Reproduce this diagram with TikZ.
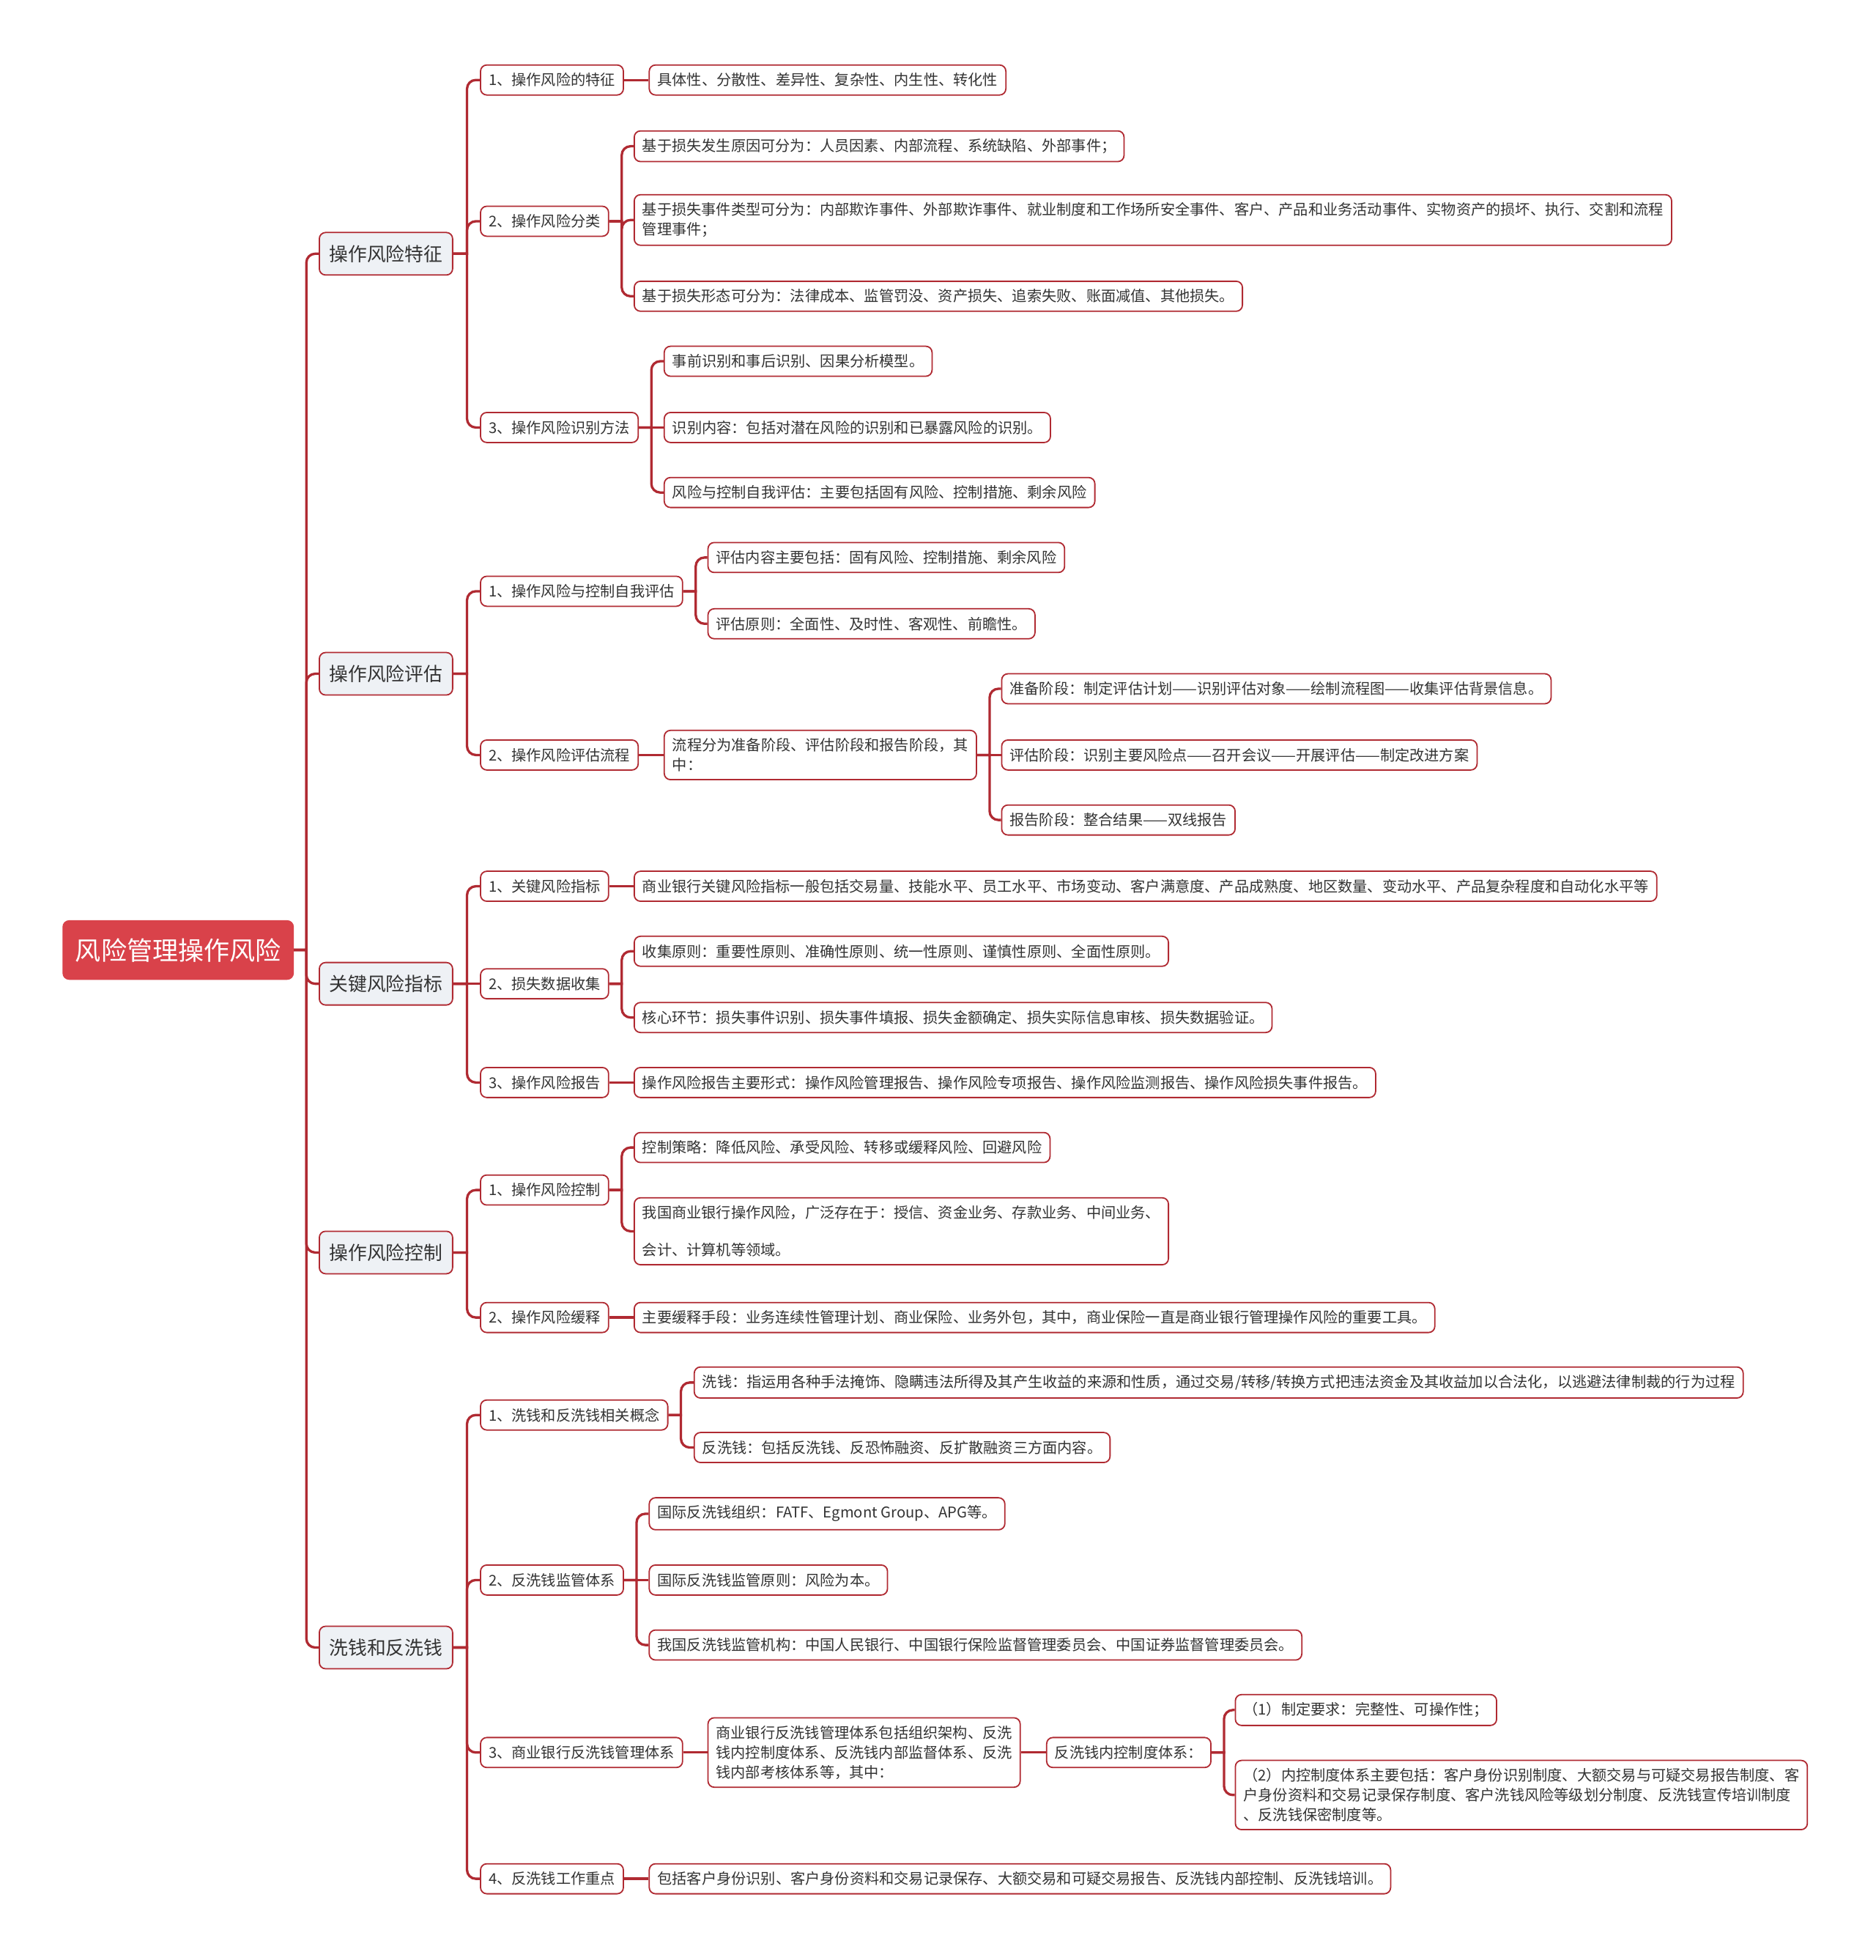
\documentclass[tikz,border=0pt]{standalone}
\usepackage{fontspec}
\setmainfont{Noto Sans CJK SC}
\usetikzlibrary{positioning}
\definecolor{linkred}{RGB}{176,42,50}
\definecolor{rootred}{RGB}{217,66,74}
\definecolor{catbg}{RGB}{238,241,245}
\definecolor{ink}{RGB}{51,51,51}

\begin{document}
\begin{tikzpicture}[x=0.02cm, y=-0.02cm,
  root/.style={draw=rootred, fill=rootred, text=white, rounded corners=0.1cm, minimum height=0.94cm, inner xsep=0.2cm, anchor=west, font=\fontsize{11.7}{14}\selectfont},
  cat/.style={draw=linkred, fill=catbg, text=ink, line width=0.6pt, rounded corners=0.1cm, minimum height=0.68cm, inner xsep=0.16cm, anchor=west, font=\fontsize{8.6}{10}\selectfont},
  sub/.style={draw=linkred, fill=white, text=ink, line width=0.6pt, rounded corners=0.1cm, minimum height=0.48cm, inner xsep=0.13cm, inner ysep=3.6pt, anchor=west, align=left, font=\fontsize{6.74}{9}\selectfont},
  link/.style={draw=linkred, line width=1.1pt},
]
\path[use as bounding box, fill=white] (0,0) rectangle (1501,1568);

\node[root] (r) at (50,760) {风险管理操作风险};

\node[cat] (a) at (255,203) {操作风险特征};
\node[cat] (b) at (255,539) {操作风险评估};
\node[cat] (c) at (255,787) {关键风险指标};
\node[cat] (d) at (255,1002) {操作风险控制};
\node[cat] (e) at (255,1318) {洗钱和反洗钱};

\node[sub] (a1) at (384,64) {1、操作风险的特征};
\node[sub] (a2) at (384,177) {2、操作风险分类};
\node[sub] (a3) at (384,342) {3、操作风险识别方法};
\node[sub] (a11) at (519,64) {具体性、分散性、差异性、复杂性、内生性、转化性};
\node[sub] (a21) at (507,117) {基于损失发生原因可分为：人员因素、内部流程、系统缺陷、外部事件；};
\node[sub] (a22) at (507,176) {基于损失事件类型可分为：内部欺诈事件、外部欺诈事件、就业制度和工作场所安全事件、客户、产品和业务活动事件、实物资产的损坏、执行、交割和流程\\管理事件；};
\node[sub] (a23) at (507,237) {基于损失形态可分为：法律成本、监管罚没、资产损失、追索失败、账面减值、其他损失。};
\node[sub] (a31) at (531,289) {事前识别和事后识别、因果分析模型。};
\node[sub] (a32) at (531,342) {识别内容：包括对潜在风险的识别和已暴露风险的识别。};
\node[sub] (a33) at (531,394) {风险与控制自我评估：主要包括固有风险、控制措施、剩余风险};

\node[sub] (b1) at (384,473) {1、操作风险与控制自我评估};
\node[sub] (b2) at (384,604) {2、操作风险评估流程};
\node[sub] (b11) at (566,446) {评估内容主要包括：固有风险、控制措施、剩余风险};
\node[sub] (b12) at (566,499) {评估原则：全面性、及时性、客观性、前瞻性。};
\node[sub] (b21) at (531,604) {流程分为准备阶段、评估阶段和报告阶段，其\\中：};
\node[sub] (b211) at (801,551) {准备阶段：制定评估计划——识别评估对象——绘制流程图——收集评估背景信息。};
\node[sub] (b212) at (801,604) {评估阶段：识别主要风险点——召开会议——开展评估——制定改进方案};
\node[sub] (b213) at (801,656) {报告阶段：整合结果——双线报告};

\node[sub] (c1) at (384,709) {1、关键风险指标};
\node[sub] (c2) at (384,787) {2、损失数据收集};
\node[sub] (c3) at (384,866) {3、操作风险报告};
\node[sub] (c11) at (507,709) {商业银行关键风险指标一般包括交易量、技能水平、员工水平、市场变动、客户满意度、产品成熟度、地区数量、变动水平、产品复杂程度和自动化水平等};
\node[sub] (c21) at (507,761) {收集原则：重要性原则、准确性原则、统一性原则、谨慎性原则、全面性原则。};
\node[sub] (c22) at (507,814) {核心环节：损失事件识别、损失事件填报、损失金额确定、损失实际信息审核、损失数据验证。};
\node[sub] (c31) at (507,866) {操作风险报告主要形式：操作风险管理报告、操作风险专项报告、操作风险监测报告、操作风险损失事件报告。};

\node[sub] (d1) at (384,952) {1、操作风险控制};
\node[sub] (d2) at (384,1054) {2、操作风险缓释};
\node[sub] (d11) at (507,918) {控制策略：降低风险、承受风险、转移或缓释风险、回避风险};
\node[sub] (d12) at (507,985) {我国商业银行操作风险，广泛存在于：授信、资金业务、存款业务、中间业务、\\[8pt]会计、计算机等领域。};
\node[sub] (d21) at (507,1054) {主要缓释手段：业务连续性管理计划、商业保险、业务外包，其中，商业保险一直是商业银行管理操作风险的重要工具。};

\node[sub] (e1) at (384,1132) {1、洗钱和反洗钱相关概念};
\node[sub] (e2) at (384,1264) {2、反洗钱监管体系};
\node[sub] (e3) at (384,1402) {3、商业银行反洗钱管理体系};
\node[sub] (e4) at (384,1503) {4、反洗钱工作重点};
\node[sub] (e11) at (555,1106) {洗钱：指运用各种手法掩饰、隐瞒违法所得及其产生收益的来源和性质，通过交易/转移/转换方式把违法资金及其收益加以合法化，以逃避法律制裁的行为过程};
\node[sub] (e12) at (555,1158) {反洗钱：包括反洗钱、反恐怖融资、反扩散融资三方面内容。};
\node[sub] (e21) at (519,1211) {国际反洗钱组织：FATF、Egmont Group、APG等。};
\node[sub] (e22) at (519,1264) {国际反洗钱监管原则：风险为本。};
\node[sub] (e23) at (519,1316) {我国反洗钱监管机构：中国人民银行、中国银行保险监督管理委员会、中国证券监督管理委员会。};
\node[sub] (e31) at (566,1402) {商业银行反洗钱管理体系包括组织架构、反洗\\钱内控制度体系、反洗钱内部监督体系、反洗\\钱内部考核体系等，其中：};
\node[sub] (e311) at (837,1402) {反洗钱内控制度体系：};
\node[sub] (e3111) at (988,1368) {（1）制定要求：完整性、可操作性；};
\node[sub] (e3112) at (988,1436) {（2）内控制度体系主要包括：客户身份识别制度、大额交易与可疑交易报告制度、客\\户身份资料和交易记录保存制度、客户洗钱风险等级划分制度、反洗钱宣传培训制度\\、反洗钱保密制度等。};
\node[sub] (e41) at (519,1503) {包括客户身份识别、客户身份资料和交易记录保存、大额交易和可疑交易报告、反洗钱内部控制、反洗钱培训。};

\draw[link] (r.east) -- ++(10,0) [rounded corners=4pt] |- (a.west);
\draw[link] (r.east) -- ++(10,0) [rounded corners=4pt] |- (b.west);
\draw[link] (r.east) -- ++(10,0) [rounded corners=4pt] |- (c.west);
\draw[link] (r.east) -- ++(10,0) [rounded corners=4pt] |- (d.west);
\draw[link] (r.east) -- ++(10,0) [rounded corners=4pt] |- (e.west);

\draw[link] (a.east) -- ++(11,0) [rounded corners=4pt] |- (a1.west);
\draw[link] (a.east) -- ++(11,0) [rounded corners=4pt] |- (a2.west);
\draw[link] (a.east) -- ++(11,0) [rounded corners=4pt] |- (a3.west);
\draw[link] (a1.east) -- (a11.west);
\draw[link] (a2.east) -- ++(10,0) [rounded corners=4pt] |- (a21.west);
\draw[link] (a2.east) -- ++(10,0) [rounded corners=4pt] |- (a22.west);
\draw[link] (a2.east) -- ++(10,0) [rounded corners=4pt] |- (a23.west);
\draw[link] (a3.east) -- ++(10,0) [rounded corners=4pt] |- (a31.west);
\draw[link] (a3.east) -- (a32.west);
\draw[link] (a3.east) -- ++(10,0) [rounded corners=4pt] |- (a33.west);

\draw[link] (b.east) -- ++(11,0) [rounded corners=4pt] |- (b1.west);
\draw[link] (b.east) -- ++(11,0) [rounded corners=4pt] |- (b2.west);
\draw[link] (b1.east) -- ++(10,0) [rounded corners=4pt] |- (b11.west);
\draw[link] (b1.east) -- ++(10,0) [rounded corners=4pt] |- (b12.west);
\draw[link] (b2.east) -- (b21.west);
\draw[link] (b21.east) -- ++(10,0) [rounded corners=4pt] |- (b211.west);
\draw[link] (b21.east) -- (b212.west);
\draw[link] (b21.east) -- ++(10,0) [rounded corners=4pt] |- (b213.west);

\draw[link] (c.east) -- ++(11,0) [rounded corners=4pt] |- (c1.west);
\draw[link] (c.east) -- (c2.west);
\draw[link] (c.east) -- ++(11,0) [rounded corners=4pt] |- (c3.west);
\draw[link] (c1.east) -- (c11.west);
\draw[link] (c2.east) -- ++(10,0) [rounded corners=4pt] |- (c21.west);
\draw[link] (c2.east) -- ++(10,0) [rounded corners=4pt] |- (c22.west);
\draw[link] (c3.east) -- (c31.west);

\draw[link] (d.east) -- ++(11,0) [rounded corners=4pt] |- (d1.west);
\draw[link] (d.east) -- ++(11,0) [rounded corners=4pt] |- (d2.west);
\draw[link] (d1.east) -- ++(10,0) [rounded corners=4pt] |- (d11.west);
\draw[link] (d1.east) -- ++(10,0) [rounded corners=4pt] |- (d12.west);
\draw[link] (d2.east) -- (d21.west);

\draw[link] (e.east) -- ++(11,0) [rounded corners=4pt] |- (e1.west);
\draw[link] (e.east) -- ++(11,0) [rounded corners=4pt] |- (e2.west);
\draw[link] (e.east) -- ++(11,0) [rounded corners=4pt] |- (e3.west);
\draw[link] (e.east) -- ++(11,0) [rounded corners=4pt] |- (e4.west);
\draw[link] (e1.east) -- ++(10,0) [rounded corners=4pt] |- (e11.west);
\draw[link] (e1.east) -- ++(10,0) [rounded corners=4pt] |- (e12.west);
\draw[link] (e2.east) -- ++(10,0) [rounded corners=4pt] |- (e21.west);
\draw[link] (e2.east) -- (e22.west);
\draw[link] (e2.east) -- ++(10,0) [rounded corners=4pt] |- (e23.west);
\draw[link] (e3.east) -- (e31.west);
\draw[link] (e31.east) -- (e311.west);
\draw[link] (e311.east) -- ++(10,0) [rounded corners=4pt] |- (e3111.west);
\draw[link] (e311.east) -- ++(10,0) [rounded corners=4pt] |- (e3112.west);
\draw[link] (e4.east) -- (e41.west);
\end{tikzpicture}
\end{document}
